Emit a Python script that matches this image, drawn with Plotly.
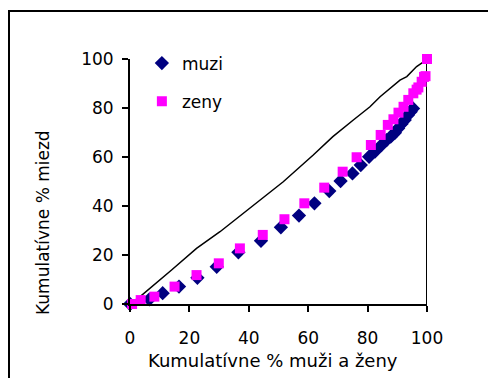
import plotly.graph_objects as go

# Cumulative shares (%) of people vs. cumulative shares (%) of wages
muzi_x = [0, 6.5, 11, 16.5, 22.7, 29.2, 36.5, 44.1, 50.8, 56.9, 62.1, 67.1, 70.9,
          74.9, 77.7, 80.5, 82.5, 84.7, 86.4, 87.8, 89.2, 90.3, 91.4, 92.5, 93.6,
          94.5, 95.3]
muzi_y = [0, 1.9, 4.4, 7.1, 10.7, 15.2, 21.1, 25.8, 31.3, 36.1, 41.1, 46.1, 50.2,
          53.3, 56.7, 60.1, 62.2, 64.9, 66.9, 68.3, 69.9, 71.7, 73.5, 75.1, 77.1,
          78.5, 79.8]

zeny_x = [0.7, 3.6, 8.2, 15, 22.4, 29.9, 37, 44.7, 52, 58.7, 65.4, 71.6, 76.3,
          81.1, 84.4, 86.8, 88.7, 90.4, 92.1, 93.7, 95.4, 96.5, 97.1, 98.2, 99,
          99.5, 100]
zeny_y = [0, 1.6, 3, 7.1, 11.8, 16.6, 22.7, 28.2, 34.6, 41.1, 47.5, 54, 59.9,
          64.9, 69, 73.1, 75.4, 78.1, 80.5, 83.3, 86, 87.5, 88.4, 90.7, 92.7,
          93, 100]

spolu_x = [0, 3.4, 14, 22.4, 30.3, 40.4, 51.6, 61.7, 68.3, 75.2, 80.8, 84.2,
           87.5, 90.9, 93.2, 96.5, 98.2, 100]
spolu_y = [0, 3, 13.9, 22.7, 29.5, 39, 49.9, 60.8, 68.3, 75.1, 80.5, 84.6,
           88, 91.4, 92.8, 96.9, 98.3, 99.6]

hranica_x = [100, 100]
hranica_y = [0, 100]

x_ticks = [0, 20, 40, 60, 80, 100]
y_ticks = [0, 20, 40, 60, 80, 100]

FONT = "DejaVu Sans"
FS = 17

fig = go.Figure()

fig.add_trace(go.Scatter(
    x=spolu_x, y=spolu_y, mode="lines",
    line=dict(color="black", width=1.5), showlegend=False, cliponaxis=False))
fig.add_trace(go.Scatter(
    x=hranica_x, y=hranica_y, mode="lines",
    line=dict(color="black", width=2), showlegend=False, cliponaxis=False))
fig.add_trace(go.Scatter(
    x=muzi_x, y=muzi_y, mode="markers", name="muzi", legendgroup="m",
    marker=dict(symbol="diamond", size=11, color="#000080"), cliponaxis=False))
fig.add_trace(go.Scatter(
    x=zeny_x, y=zeny_y, mode="markers", name="zeny", legendgroup="z",
    marker=dict(symbol="square", size=10, color="#FF00FF"), cliponaxis=False))

axis_common = dict(
    range=[0, 100], showgrid=False, zeroline=False, showline=True,
    linecolor="black", linewidth=2, ticks="outside", ticklen=6,
    tickcolor="black", tickwidth=1.5,
    tickfont=dict(family=FONT, size=FS, color="black"),
)

fig.update_layout(
    width=488, height=378,
    margin=dict(l=130, r=61, t=59, b=74),
    paper_bgcolor="white", plot_bgcolor="white",
    font=dict(family=FONT, color="black"),
    xaxis=dict(**axis_common, tickvals=x_ticks, ticklabelstandoff=12),
    yaxis=dict(**axis_common, tickvals=y_ticks, ticklabelstandoff=5),
    legend=dict(
        x=0.04, y=1.055, xanchor="left", yanchor="top",
        bgcolor="rgba(0,0,0,0)", tracegroupgap=13, itemwidth=30,
        font=dict(family=FONT, size=FS, color="black"),
    ),
    annotations=[
        dict(text="Kumulatívne % muži a ženy", xref="paper", yref="paper",
             x=(273 - 130) / 297, y=(304 - 360) / 245, xanchor="center",
             yanchor="middle", showarrow=False,
             font=dict(family=FONT, size=18, color="black")),
        dict(text="Kumulatívne % miezd", xref="paper", yref="paper",
             x=(43 - 130) / 297, y=(304 - 223) / 245, xanchor="center",
             yanchor="middle", textangle=-90, showarrow=False,
             font=dict(family=FONT, size=FS, color="black")),
    ],
    shapes=[
        dict(type="rect", xref="paper", yref="paper",
             x0=(9 - 130) / 297, x1=(495 - 130) / 297,
             y0=(304 - 400) / 245, y1=(304 - 11) / 245,
             line=dict(color="black", width=2), layer="below"),
    ],
)

fig.write_html("out.html")
